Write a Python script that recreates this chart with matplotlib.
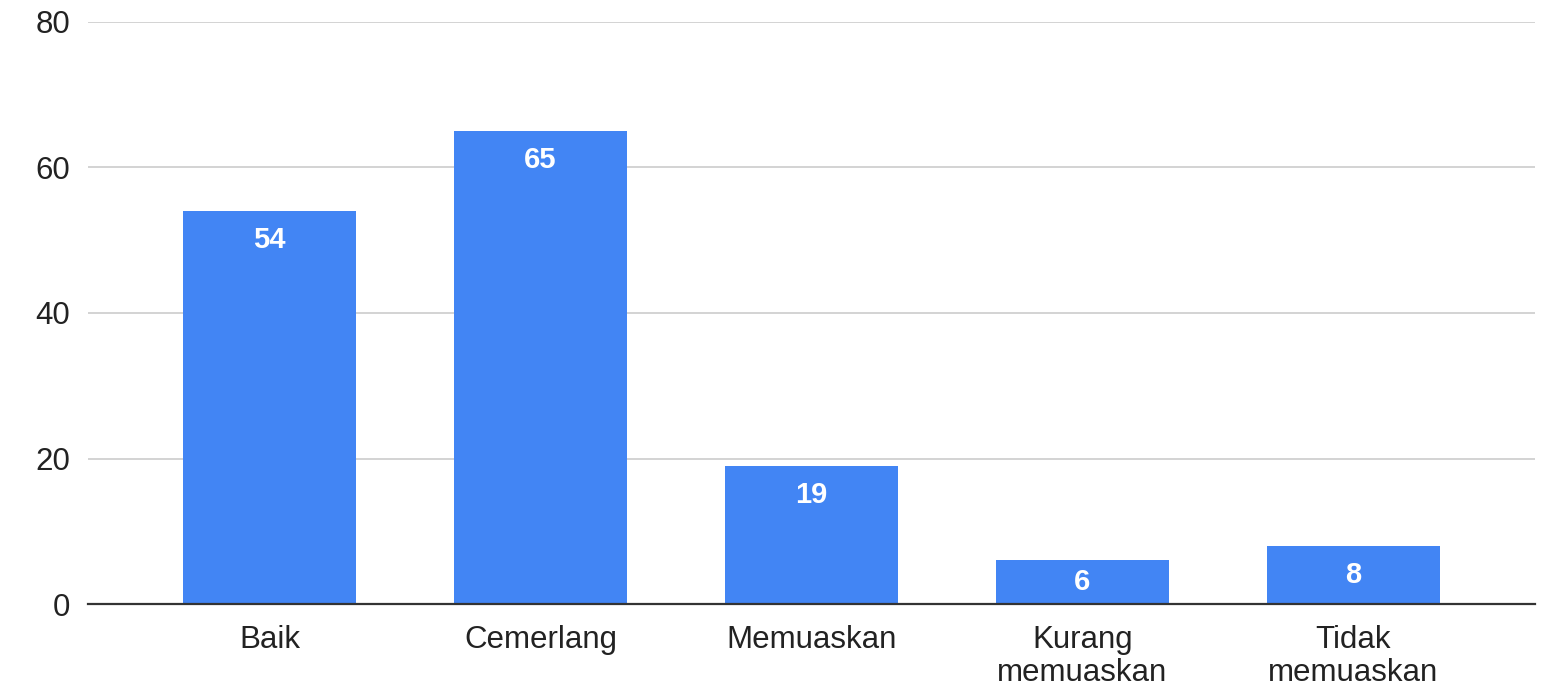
import matplotlib.pyplot as plt

# Data
categories = ["Baik", "Cemerlang", "Memuaskan", "Kurang\nmemuaskan", "Tidak\nmemuaskan"]
values = [54, 65, 19, 6, 8]
y_ticks = [0, 20, 40, 60, 80]

plt.rcParams["font.family"] = ["Liberation Sans", "DejaVu Sans"]

fig = plt.figure(figsize=(15.53, 6.87), dpi=100)
ax = fig.add_axes([0.0567, 0.1208, 0.9317, 0.8472])

x = range(len(categories))
bars = ax.bar(x, values, width=0.64, color="#4285F4", zorder=3)

# Value labels inside the top of each bar (kept inside short bars)
for rect, v in zip(bars, values):
    ax.text(rect.get_x() + rect.get_width() / 2, max(v - 4, v / 2), str(v),
            ha="center", va="center", color="white",
            fontsize=21, fontweight="bold", zorder=4)

ax.set_xlim(-0.67, 4.67)
ax.set_ylim(0, 80)
ax.set_yticks(y_ticks)
ax.set_xticks(list(x))
ax.set_xticklabels(categories, fontsize=22.5, color="#222222", linespacing=1.15)
ax.tick_params(axis="y", length=0, pad=13, labelsize=22.5, labelcolor="#222222")
ax.tick_params(axis="x", length=0, pad=15)

ax.grid(axis="y", color="#cccccc", linewidth=1.2, zorder=0)
for side in ["left", "right", "top"]:
    ax.spines[side].set_visible(False)
ax.spines["bottom"].set_color("#333333")
ax.spines["bottom"].set_linewidth(1.6)
ax.spines["bottom"].set_zorder(5)

fig.savefig("out.png", dpi=100)
